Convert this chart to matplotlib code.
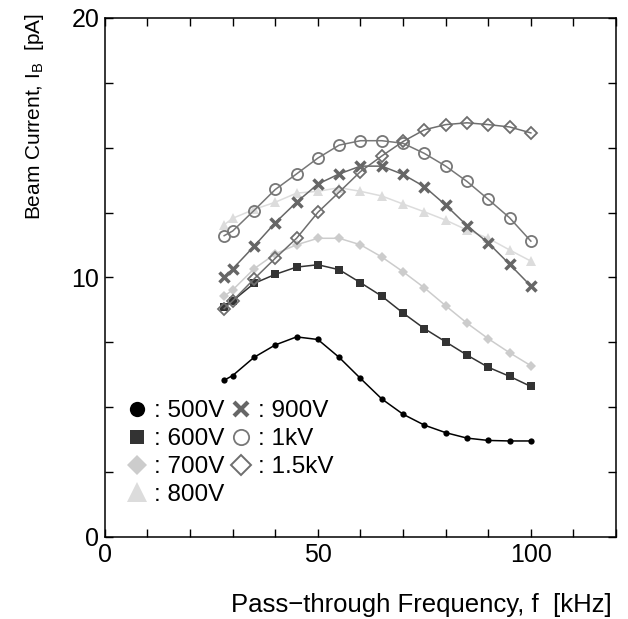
import matplotlib
matplotlib.use("Agg")
import matplotlib.pyplot as plt
from matplotlib.ticker import MultipleLocator, FixedLocator

plt.rcParams['font.family'] = ['Liberation Sans', 'DejaVu Sans']
plt.rcParams['mathtext.fontset'] = 'custom'
plt.rcParams['mathtext.rm'] = 'Liberation Sans'
plt.rcParams['mathtext.it'] = 'Liberation Sans'

freq = [28, 30, 35, 40, 45, 50, 55, 60, 65, 70, 75, 80, 85, 90, 95, 100]

v500 = [6.04, 6.22, 6.92, 7.40, 7.71, 7.61, 6.92, 6.11, 5.32, 4.73, 4.31, 4.02, 3.81, 3.72, 3.70, 3.70]
v600 = [8.87, 9.10, 9.77, 10.12, 10.40, 10.49, 10.30, 9.80, 9.28, 8.63, 8.03, 7.52, 7.01, 6.54, 6.19, 5.80]
v700 = [9.28, 9.52, 10.33, 10.91, 11.26, 11.51, 11.51, 11.26, 10.79, 10.22, 9.60, 8.91, 8.24, 7.64, 7.10, 6.60]
v800 = [12.03, 12.28, 12.62, 12.90, 13.25, 13.32, 13.46, 13.32, 13.14, 12.83, 12.53, 12.21, 11.83, 11.51, 11.06, 10.63]
v900 = [10.01, 10.33, 11.20, 12.11, 12.90, 13.60, 13.99, 14.29, 14.29, 13.97, 13.50, 12.79, 12.00, 11.33, 10.51, 9.67]
v1k = [11.61, 11.79, 12.58, 13.39, 13.99, 14.60, 15.10, 15.27, 15.27, 15.17, 14.78, 14.29, 13.70, 13.01, 12.30, 11.40]
v15k = [8.80, 9.10, 9.94, 10.74, 11.51, 12.51, 13.29, 14.08, 14.68, 15.24, 15.69, 15.89, 15.96, 15.89, 15.80, 15.57]

labels = [': 500V', ': 600V', ': 700V', ': 800V', ': 900V', ': 1kV', ': 1.5kV']

fig = plt.figure(figsize=(6.28, 6.19), dpi=100)
ax = fig.add_axes([0.167, 0.1325, 0.814, 0.8385])

# plot marker style, legend marker size, legend edge width
styles = [
    dict(data=v500, color='#000000', marker='o', ms=4.5, mfc='#000000', mew=0, lms=11, lmew=0),
    dict(data=v600, color='#333333', marker='s', ms=5.2, mfc='#333333', mew=0, lms=10.5, lmew=0),
    dict(data=v700, color='#cccccc', marker='D', ms=5.2, mfc='#cccccc', mew=0, lms=10, lmew=0),
    dict(data=v800, color='#dcdcdc', marker='^', ms=7.5, mfc='#dcdcdc', mew=0, lms=14, lmew=0),
    dict(data=v900, color='#666666', marker='x', ms=6.5, mfc='none', mew=2.5, lms=10, lmew=3),
    dict(data=v1k, color='#777777', marker='o', ms=8, mfc='none', mew=1.3, lms=11, lmew=1.3),
    dict(data=v15k, color='#6e6e6e', marker='D', ms=6.2, mfc='none', mew=1.3, lms=10.5, lmew=1.4),
]

handles = []
for st, lab in zip(styles, labels):
    ax.plot(freq, st['data'], color=st['color'], lw=1.1, marker=st['marker'],
            ms=st['ms'], mfc=st['mfc'], mec=st['color'], mew=st['mew'])
    lh, = ax.plot([], [], ls='none', marker=st['marker'], ms=st['lms'],
                  mfc=st['mfc'], mec=st['color'], mew=st['lmew'], color=st['color'])
    handles.append(lh)

ax.set_xlim(0, 120)
ax.set_ylim(0, 20)
ax.xaxis.set_major_locator(FixedLocator([0, 50, 100]))
ax.xaxis.set_minor_locator(MultipleLocator(10))
ax.yaxis.set_major_locator(FixedLocator([0, 10, 20]))
ax.yaxis.set_minor_locator(MultipleLocator(2.5))
ax.tick_params(which='both', direction='in', top=True, right=True, width=1.0, length=5.5)
ax.tick_params(which='major', labelsize=18, pad=4)
for s in ax.spines.values():
    s.set_linewidth(1.1)

leg = fig.legend(handles, labels, ncol=2, loc='lower left',
                 bbox_to_anchor=(127 / 628, 1 - 506 / 619), bbox_transform=fig.transFigure,
                 frameon=False, fontsize=17.5, handlelength=0.8, handletextpad=0.3,
                 columnspacing=0.3, labelspacing=0.24, borderaxespad=0, borderpad=0)

fig.text(612 / 628, 1 - 605 / 619, 'Pass\u2212through Frequency, f  [kHz]',
         ha='right', va='center', fontsize=18.5)
fig.text(35 / 628, 1 - 13 / 619, 'Beam Current, I$_{\\mathrm{B}}$  [pA]', rotation=90,
         ha='center', va='top', fontsize=15)

fig.savefig('out.png', dpi=100)
